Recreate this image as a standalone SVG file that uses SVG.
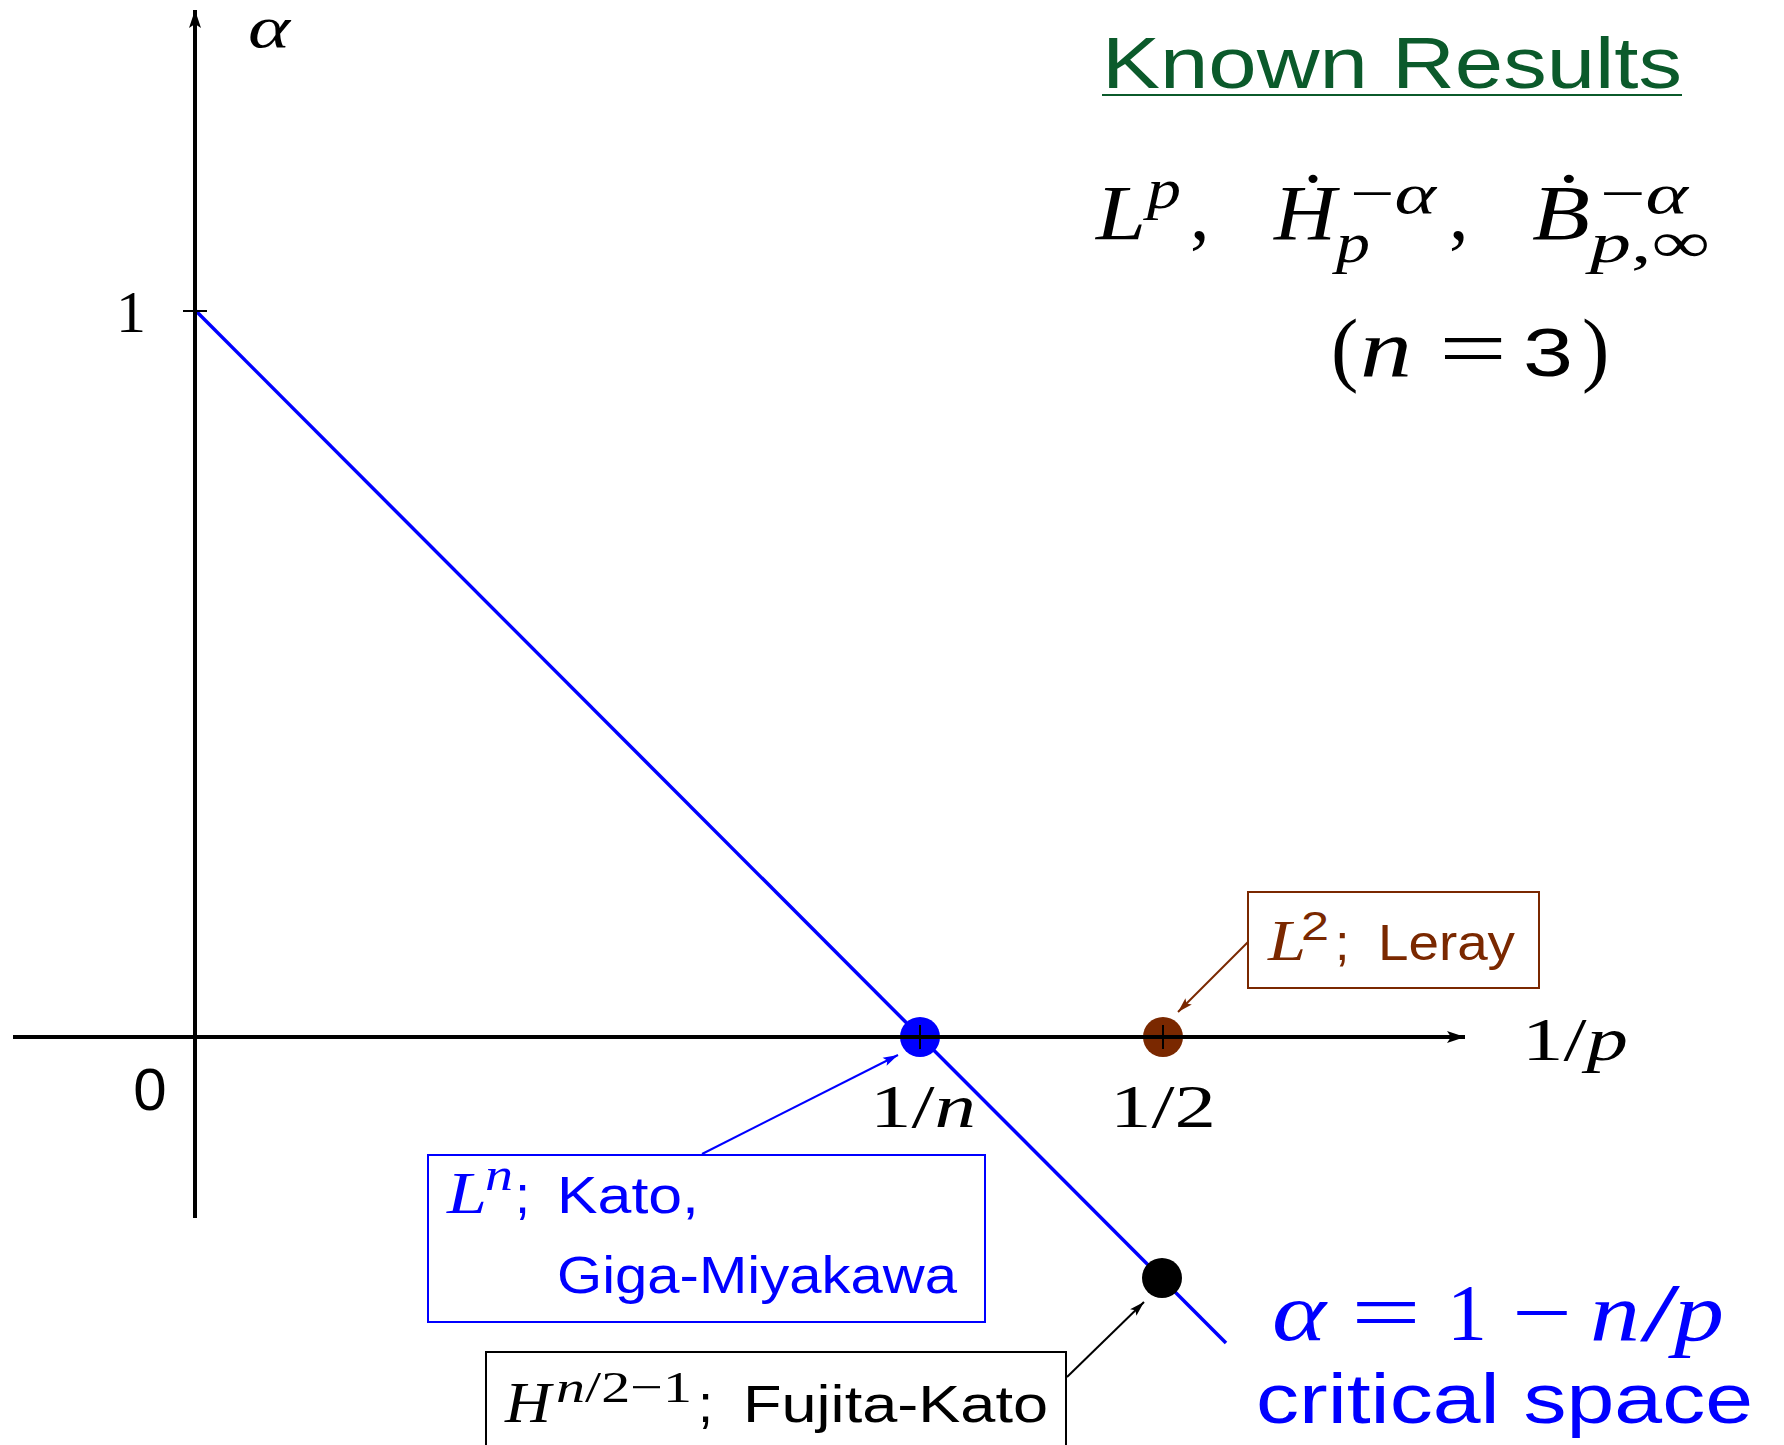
<svg xmlns="http://www.w3.org/2000/svg" width="1784" height="1445" viewBox="0 0 1784 1445">
<style>
.sans{font-family:"Liberation Sans","DejaVu Sans",sans-serif}
.serif{font-family:"Liberation Serif","DejaVu Serif",serif}
.it{font-family:"Liberation Serif","DejaVu Serif",serif;font-style:italic}
.axis{stroke:#000;stroke-width:4;fill:none}
.tick{stroke:#000;stroke-width:2;fill:none}
.box{fill:#fff;stroke-width:2}
.conn{fill:none;stroke-width:2}
</style>
<defs>
<marker id="axArrow" markerUnits="userSpaceOnUse" markerWidth="20" markerHeight="14" refX="18" refY="7" orient="auto"><path d="M0,1 L18,7 L0,13 L4,7 Z" fill="#000"/></marker>
<marker id="arBlue" markerUnits="userSpaceOnUse" markerWidth="16" markerHeight="10" refX="15" refY="5" orient="auto"><path d="M0,0.5 L15,5 L0,9.5 L3,5 Z" fill="#0000ff"/></marker>
<marker id="arBrown" markerUnits="userSpaceOnUse" markerWidth="16" markerHeight="10" refX="15" refY="5" orient="auto"><path d="M0,0.5 L15,5 L0,9.5 L3,5 Z" fill="#7a2800"/></marker>
<marker id="arBlack" markerUnits="userSpaceOnUse" markerWidth="16" markerHeight="10" refX="15" refY="5" orient="auto"><path d="M0,0.5 L15,5 L0,9.5 L3,5 Z" fill="#000"/></marker>
</defs>
<rect width="1784" height="1445" fill="#fff"/>

<g id="critical-line">
<line x1="196" y1="311" x2="1226" y2="1343" stroke="#0000ff" stroke-width="3.5"/>
</g>

<g id="node-dot-1n"><circle cx="920" cy="1037" r="20" fill="#0000ff"/></g>
<g id="node-dot-half"><circle cx="1163" cy="1037" r="20" fill="#7a2800"/></g>
<g id="node-dot-fk"><circle cx="1162" cy="1278" r="20" fill="#000"/></g>

<g id="axes">
<line class="axis" x1="195" y1="1218" x2="195" y2="10" marker-end="url(#axArrow)"/>
<line class="axis" x1="13" y1="1037" x2="1465" y2="1037" marker-end="url(#axArrow)"/>
<line class="tick" x1="183" y1="311" x2="207" y2="311"/>
<line class="tick" x1="920" y1="1025" x2="920" y2="1049"/>
<line class="tick" x1="1163" y1="1025" x2="1163" y2="1049"/>
<text class="it" x="248" y="47" font-size="60" textLength="42" lengthAdjust="spacingAndGlyphs">α</text>
<text class="serif" x="116" y="332" font-size="60" textLength="30" lengthAdjust="spacingAndGlyphs">1</text>
<text class="sans" x="150" y="1110" font-size="60" text-anchor="middle">0</text>
<text class="serif" x="870" y="1127" font-size="62" textLength="106" lengthAdjust="spacingAndGlyphs">1<tspan>/</tspan><tspan class="it">n</tspan></text>
<text class="serif" x="1110" y="1127" font-size="62" textLength="106" lengthAdjust="spacingAndGlyphs">1/2</text>
<text class="serif" x="1522" y="1060" font-size="62" textLength="106" lengthAdjust="spacingAndGlyphs">1/<tspan class="it">p</tspan></text>
</g>

<g id="node-known-results">
<text class="sans" x="1102" y="88" font-size="72" fill="#0b5a2b" textLength="580" lengthAdjust="spacingAndGlyphs">Known Results</text>
<line x1="1102" y1="95" x2="1682" y2="95" stroke="#0b5a2b" stroke-width="2"/>
</g>

<g id="node-spaces">
<text class="it" x="1096" y="239" font-size="78" textLength="50" lengthAdjust="spacingAndGlyphs">L</text>
<text class="it" x="1147" y="208" font-size="58" textLength="34" lengthAdjust="spacingAndGlyphs">p</text>
<text class="serif" x="1190" y="239" font-size="78">,</text>
<text class="it" x="1274" y="239" font-size="78" textLength="62" lengthAdjust="spacingAndGlyphs">Ḣ</text>
<text class="serif" x="1350" y="213" font-size="58" textLength="86" lengthAdjust="spacingAndGlyphs">−<tspan class="it">α</tspan></text>
<text class="it" x="1336" y="262" font-size="58" textLength="34" lengthAdjust="spacingAndGlyphs">p</text>
<text class="serif" x="1449" y="239" font-size="78">,</text>
<text class="it" x="1532" y="239" font-size="78" textLength="58" lengthAdjust="spacingAndGlyphs">Ḃ</text>
<text class="serif" x="1600" y="213" font-size="58" textLength="88" lengthAdjust="spacingAndGlyphs">−<tspan class="it">α</tspan></text>
<text class="serif" x="1590" y="262" font-size="58" textLength="120" lengthAdjust="spacingAndGlyphs"><tspan class="it">p</tspan>,∞</text>
</g>

<g id="node-n3">
<text class="serif" x="1331" y="376" font-size="82">(</text>
<text class="it" x="1360" y="376" font-size="82" textLength="52" lengthAdjust="spacingAndGlyphs">n</text>
<text class="serif" x="1439" y="376" font-size="82" textLength="68" lengthAdjust="spacingAndGlyphs">=</text>
<text class="sans" x="1523" y="376" font-size="68" textLength="50" lengthAdjust="spacingAndGlyphs">3</text>
<text class="serif" x="1582" y="376" font-size="82">)</text>
</g>

<g id="connectors">
<line class="conn" x1="1248" y1="942" x2="1178" y2="1012" stroke="#7a2800" marker-end="url(#arBrown)"/>
<line class="conn" x1="702" y1="1154" x2="898" y2="1055" stroke="#0000ff" marker-end="url(#arBlue)"/>
<line class="conn" x1="1067" y1="1377" x2="1144" y2="1302" stroke="#000" marker-end="url(#arBlack)"/>
</g>

<g id="node-leray">
<rect class="box" x="1248" y="892" width="291" height="96" stroke="#7a2800"/>
<text class="it" x="1268" y="960" font-size="58" fill="#7a2800" textLength="38" lengthAdjust="spacingAndGlyphs">L</text>
<text class="sans" x="1301" y="940" font-size="40" fill="#7a2800" textLength="28" lengthAdjust="spacingAndGlyphs">2</text>
<text class="sans" x="1335" y="960" font-size="52" fill="#7a2800">;</text>
<text class="sans" x="1378" y="960" font-size="50" fill="#7a2800" textLength="137" lengthAdjust="spacingAndGlyphs">Leray</text>
</g>

<g id="node-kato">
<rect class="box" x="428" y="1155" width="557" height="167" stroke="#0000ff"/>
<text class="it" x="447" y="1213" font-size="60" fill="#0000ff" textLength="40" lengthAdjust="spacingAndGlyphs">L</text>
<text class="it" x="485" y="1190" font-size="46" fill="#0000ff" textLength="28" lengthAdjust="spacingAndGlyphs">n</text>
<text class="sans" x="515" y="1213" font-size="54" fill="#0000ff">;</text>
<text class="sans" x="557" y="1213" font-size="52" fill="#0000ff" textLength="142" lengthAdjust="spacingAndGlyphs">Kato,</text>
<text class="sans" x="557" y="1293" font-size="52" fill="#0000ff" textLength="400" lengthAdjust="spacingAndGlyphs">Giga-Miyakawa</text>
</g>

<g id="node-fujita">
<rect class="box" x="486" y="1352" width="580" height="120" stroke="#000"/>
<text class="it" x="505" y="1422" font-size="56" textLength="46" lengthAdjust="spacingAndGlyphs">H</text>
<text class="serif" x="556" y="1402" font-size="44" textLength="136" lengthAdjust="spacingAndGlyphs"><tspan class="it">n</tspan>/2−1</text>
<text class="sans" x="698" y="1422" font-size="54">;</text>
<text class="sans" x="743" y="1422" font-size="52" textLength="305" lengthAdjust="spacingAndGlyphs">Fujita-Kato</text>
</g>

<g id="node-critical" fill="#0000ff">
<text class="it" x="1272" y="1340" font-size="82" textLength="54" lengthAdjust="spacingAndGlyphs">α</text>
<text class="serif" x="1351" y="1340" font-size="82" textLength="70" lengthAdjust="spacingAndGlyphs">=</text>
<text class="serif" x="1447" y="1340" font-size="80">1</text>
<text class="serif" x="1512" y="1340" font-size="82" textLength="60" lengthAdjust="spacingAndGlyphs">−</text>
<text class="it" x="1590" y="1340" font-size="82" textLength="50" lengthAdjust="spacingAndGlyphs">n</text>
<text class="serif" x="1640" y="1340" font-size="82" textLength="40" lengthAdjust="spacingAndGlyphs">/</text>
<text class="it" x="1674" y="1340" font-size="82" textLength="50" lengthAdjust="spacingAndGlyphs">p</text>
<text class="sans" x="1256" y="1423" font-size="70" textLength="497" lengthAdjust="spacingAndGlyphs">critical space</text>
</g>
</svg>
